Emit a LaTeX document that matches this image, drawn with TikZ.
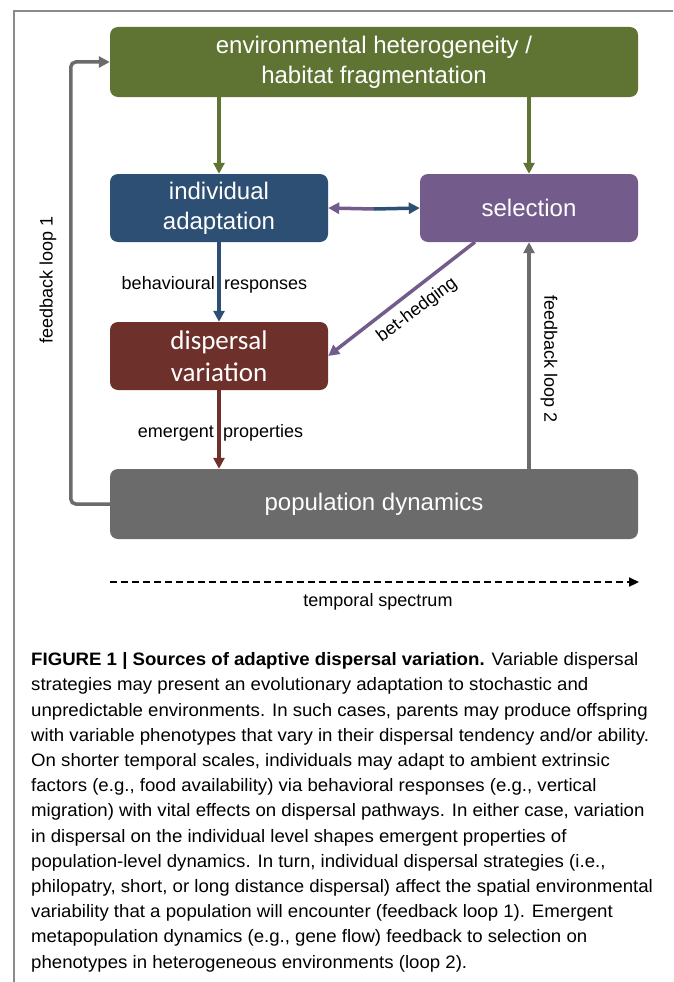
\documentclass[tikz,border=0pt]{standalone}
\usepackage{fontspec}
\setmainfont{Liberation Sans}
\newfontfamily\calib{Carlito}
\newfontfamily\capfont[FakeStretch=1.035]{Liberation Sans}
\usetikzlibrary{arrows.meta}
\definecolor{cgreen}{HTML}{5F7432}
\definecolor{cblue}{HTML}{2D4F73}
\definecolor{cpurple}{HTML}{735C8C}
\definecolor{cred}{HTML}{6E302B}
\definecolor{cgray}{HTML}{6B6B6B}
\definecolor{cframe}{HTML}{8A8A8A}
\tikzset{
  box/.style={fill=#1, rounded corners=8pt, text=white, align=center, inner sep=0pt,
    font=\fontsize{24}{30}\selectfont},
  conn/.style={draw=#1, line width=3.5pt, -{Triangle[length=11pt,width=11pt]}},
  lbl/.style={font=\fontsize{18}{20}\selectfont, inner sep=0pt},
}
\begin{document}
\begin{tikzpicture}[x=1pt,y=-1pt]
\useasboundingbox[fill=white] (0,0) rectangle (673,982);
% frame
\draw[cframe, line width=1.5pt] (14,982) -- (14,11) -- (673,11);
% boxes
\node[box=cgreen, minimum width=528pt, minimum height=70pt] (env) at (374,62)
  {environmental heterogeneity /\\habitat fragmentation};
\node[box=cblue, minimum width=218pt, minimum height=68pt] (ind) at (219,208)
  {individual\\adaptation};
\node[box=cpurple, minimum width=218pt, minimum height=68pt] (sel) at (529,208)
  {selection};
\node[box=cred, minimum width=218pt, minimum height=68pt, font=\calib\fontsize{27}{32}\selectfont] (disp) at (219,356)
  {dispersal\\variation};
\node[box=cgray, minimum width=528pt, minimum height=70pt] (pop) at (374,504)
  {population dynamics};
% connectors
\draw[conn=cgreen] (ind.north |- env.south) -- (ind.north);
\draw[conn=cgreen] (sel.north |- env.south) -- (sel.north);
\coordinate (mid) at (374,209);
\draw[conn=cpurple] (mid) -- (ind.east);
\draw[conn=cblue] (mid) -- (sel.west);
\draw[conn=cblue] (ind.south) -- (disp.north);
\coordinate (bs) at (475,242);
\draw[conn=cpurple] (bs) -- (disp.east);
\draw[conn=cred] (disp.south) -- (pop.north -| disp.south);
\draw[conn=cgray] (sel.south |- pop.north) -- (sel.south);
\draw[conn=cgray, rounded corners=5pt] (pop.west) -- ++(-39,0) |- (env.west);
% labels
\node[lbl, anchor=base east] (br1) at (215,289) {behavioural};
\node[lbl, anchor=base west] (br2) at (224,289) {responses};
\node[lbl, anchor=base east] (ep1) at (214,437) {emergent};
\node[lbl, anchor=base west] (ep2) at (223,437) {properties};
\node[lbl, rotate=90] (fb1) at (48,280) {feedback loop 1};
\node[lbl, rotate=-90] (fb2) at (549,359) {feedback loop 2};
\node[lbl, rotate=37] (bh) at (417,310) {bet-hedging};
% temporal spectrum
\coordinate (ts) at (110,582);
\coordinate (te) at (639,582);
\draw[black, line width=2.2pt, dash pattern=on 7pt off 4pt, -{Triangle[length=10pt,width=9pt]}] (ts) -- (te);
\node[lbl] (tsl) at (378,602) {temporal spectrum};
% caption
\node[anchor=base west, align=left, inner sep=0pt, font=\capfont\fontsize{18}{25.2}\selectfont] (cap) at (31,968)
{\textbf{FIGURE 1 | Sources of adaptive dispersal variation.} Variable dispersal\\
strategies may present an evolutionary adaptation to stochastic and\\
unpredictable environments. In such cases, parents may produce offspring\\
with variable phenotypes that vary in their dispersal tendency and/or ability.\\
On shorter temporal scales, individuals may adapt to ambient extrinsic\\
factors (e.g., food availability) via behavioral responses (e.g., vertical\\
migration) with vital effects on dispersal pathways. In either case, variation\\
in dispersal on the individual level shapes emergent properties of\\
population-level dynamics. In turn, individual dispersal strategies (i.e.,\\
philopatry, short, or long distance dispersal) affect the spatial environmental\\
variability that a population will encounter (feedback loop 1). Emergent\\
metapopulation dynamics (e.g., gene flow) feedback to selection on\\
phenotypes in heterogeneous environments (loop 2).};
\end{tikzpicture}
\end{document}
